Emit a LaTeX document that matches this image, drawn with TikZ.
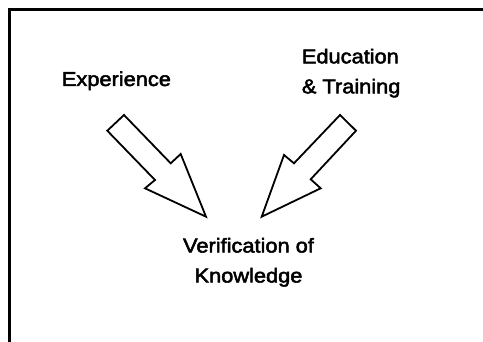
\documentclass[tikz,border=0pt]{standalone}
\usepackage{fontspec}
\setmainfont{Liberation Sans}
\newfontfamily\lblfont{Liberation Sans}[FakeBold=2.5, FakeStretch=1.09]
\begin{document}
\begin{tikzpicture}[x=1pt,y=-1pt,
  lbl/.style={font=\lblfont\fontsize{20}{30}\selectfont, inner sep=0pt},
  blockarrow/.style={draw=black, line width=1.8pt, fill=white, line join=miter},
  frameline/.style={draw=black, line width=3pt}]
\useasboundingbox (0,0) rectangle (483,342);
\draw[frameline] (9.5,342) -- (9.5,9.5) -- (483,9.5);
\node[lbl, anchor=base west] (exp) at (61.7,86) {Experience};
\node[lbl, anchor=base west, align=left] (edu) at (301.7,93.3) {Education\\\& Training};
\node[lbl, anchor=base, align=center] (ver) at (248.5,282.5) {Verification of\\Knowledge};
\draw[blockarrow] (107.3,130.7) -- (124,115) -- (170.7,163.3) -- (180.7,154) -- (206,216.7) -- (145,188.3) -- (155,180) -- cycle;
\draw[blockarrow] (340,115) -- (356,130.7) -- (310.7,179.3) -- (320.7,188.3) -- (261.7,216.7) -- (284,155) -- (294,163.3) -- cycle;
\end{tikzpicture}
\end{document}
